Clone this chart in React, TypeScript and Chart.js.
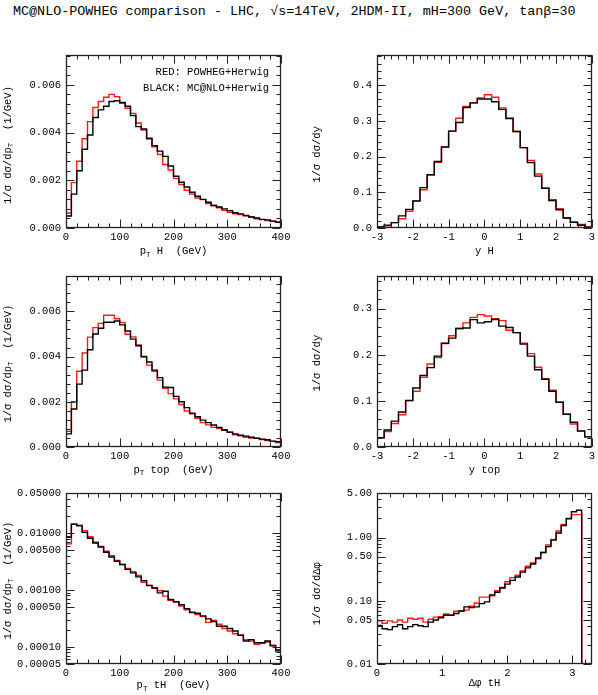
import React, { useEffect, useRef } from "react";
import { Chart, registerables } from "chart.js";
Chart.register(...registerables);

const FONT = "'Liberation Mono', 'DejaVu Sans Mono', monospace";

// ---------- bin layouts ----------
const PT_LO = 0;
const PT_BIN = 10;
const RAP_LO = -3;
const RAP_BIN = 0.2;
const DPHI_LO = 0;
const DPHI_BIN = Math.PI / 40;

// ---------- data ----------
const PTH_MCNLO = [0.0005, 0.00142, 0.0024, 0.0033, 0.0039, 0.00463, 0.00495, 0.0051, 0.0053, 0.00533, 0.00526, 0.0051, 0.00471, 0.00425, 0.00415, 0.00376, 0.00345, 0.00322, 0.003, 0.0026, 0.00217, 0.00192, 0.00172, 0.0015, 0.00133, 0.0012, 0.00108, 0.00094, 0.00088, 0.0008, 0.00073, 0.00064, 0.00059, 0.00053, 0.00046, 0.00042, 0.00036, 0.00034, 0.00029, 0.00024];
const PTH_POWHEG = [0.00063, 0.0019, 0.0028, 0.00374, 0.00446, 0.00505, 0.0053, 0.00548, 0.0056, 0.0055, 0.00523, 0.00502, 0.0048, 0.0044, 0.0041, 0.00373, 0.0034, 0.00308, 0.00266, 0.00243, 0.00207, 0.00182, 0.00158, 0.00142, 0.00126, 0.00119, 0.00102, 0.00094, 0.00085, 0.00074, 0.00066, 0.0006, 0.00056, 0.0005, 0.00046, 0.00039, 0.00035, 0.00031, 0.00028, 0.00024];

const YH_MCNLO = [0.003, 0.008, 0.015, 0.034, 0.052, 0.076, 0.113, 0.149, 0.186, 0.227, 0.271, 0.295, 0.337, 0.35, 0.361, 0.361, 0.353, 0.332, 0.306, 0.27, 0.225, 0.183, 0.145, 0.111, 0.077, 0.051, 0.028, 0.016, 0.0075, 0.002];
const YH_POWHEG = [0.003, 0.0065, 0.015, 0.026, 0.047, 0.075, 0.107, 0.149, 0.184, 0.226, 0.271, 0.307, 0.34, 0.35, 0.364, 0.373, 0.366, 0.336, 0.308, 0.27, 0.225, 0.189, 0.151, 0.111, 0.079, 0.054, 0.028, 0.016, 0.01, 0.003];

const PTTOP_MCNLO = [0.00058, 0.00168, 0.00278, 0.0034, 0.0043, 0.005, 0.00525, 0.00552, 0.00552, 0.00557, 0.0054, 0.00513, 0.00477, 0.00448, 0.004, 0.00376, 0.0034, 0.00307, 0.00265, 0.00263, 0.00224, 0.002, 0.00174, 0.0015, 0.00134, 0.00119, 0.00108, 0.00097, 0.00087, 0.00075, 0.00066, 0.00058, 0.00052, 0.00048, 0.00043, 0.00039, 0.00035, 0.00032, 0.00026, 0.00023];
const PTTOP_POWHEG = [0.00069, 0.002, 0.00335, 0.00416, 0.00486, 0.00528, 0.00547, 0.00583, 0.00583, 0.00567, 0.0055, 0.00499, 0.00487, 0.00451, 0.00398, 0.00362, 0.00335, 0.00296, 0.0026, 0.00236, 0.00213, 0.00188, 0.00159, 0.00147, 0.00127, 0.00108, 0.00098, 0.00087, 0.00082, 0.00075, 0.00065, 0.00054, 0.00049, 0.00043, 0.0004, 0.00038, 0.00033, 0.00029, 0.00025, 0.0002];

const YTOP_MCNLO = [0.02, 0.037, 0.056, 0.076, 0.101, 0.128, 0.155, 0.172, 0.197, 0.225, 0.236, 0.257, 0.258, 0.276, 0.269, 0.2715, 0.2765, 0.262, 0.259, 0.248, 0.223, 0.197, 0.1675, 0.147, 0.121, 0.097, 0.071, 0.0535, 0.035, 0.022];
const YTOP_POWHEG = [0.02, 0.0335, 0.051, 0.07, 0.1, 0.121, 0.151, 0.18, 0.194, 0.2245, 0.241, 0.257, 0.269, 0.281, 0.287, 0.284, 0.278, 0.274, 0.253, 0.248, 0.225, 0.2025, 0.173, 0.148, 0.123, 0.097, 0.071, 0.05, 0.034, 0.022];

const PTTH_MCNLO = [0.0084, 0.0143, 0.0134, 0.0103, 0.0081, 0.0067, 0.0057, 0.0046, 0.0038, 0.0032, 0.0028, 0.0023, 0.002, 0.0017, 0.00145, 0.00119, 0.00108, 0.00089, 0.00095, 0.00068, 0.00062, 0.00055, 0.00047, 0.0004, 0.00039, 0.00035, 0.00031, 0.00028, 0.00023, 0.00023, 0.00021, 0.00019, 0.00016, 0.000127, 0.000134, 0.000118, 0.000118, 0.000127, 0.000104, 0.000088];
const PTTH_POWHEG = [0.00646, 0.0143, 0.0137, 0.011, 0.0086, 0.0069, 0.0058, 0.0048, 0.004, 0.0033, 0.0028, 0.0024, 0.0021, 0.0018, 0.00136, 0.00121, 0.00108, 0.00097, 0.00078, 0.00066, 0.00062, 0.00052, 0.00045, 0.00041, 0.00037, 0.00034, 0.00027, 0.00029, 0.00025, 0.00021, 0.00019, 0.00017, 0.00016, 0.000134, 0.000127, 0.000111, 0.000115, 0.000122, 0.000107, 0.000083];

const DPHI_MCNLO = [0.0406, 0.036, 0.035, 0.039, 0.0417, 0.036, 0.039, 0.042, 0.0403, 0.039, 0.046, 0.0497, 0.054, 0.059, 0.059, 0.063, 0.069, 0.08, 0.078, 0.08, 0.09, 0.096, 0.124, 0.136, 0.159, 0.183, 0.21, 0.238, 0.284, 0.331, 0.382, 0.473, 0.579, 0.717, 0.909, 1.18, 1.55, 2.0, 2.55, 2.7];
const DPHI_POWHEG = [0.0484, 0.044, 0.048, 0.046, 0.0497, 0.046, 0.0528, 0.051, 0.0528, 0.046, 0.051, 0.055, 0.056, 0.0616, 0.059, 0.0683, 0.068, 0.071, 0.082, 0.092, 0.114, 0.114, 0.12, 0.144, 0.162, 0.2, 0.232, 0.253, 0.295, 0.352, 0.396, 0.462, 0.579, 0.76, 0.93, 1.27, 1.61, 1.97, 2.3, 2.3];

// ---------- ticks ----------
const PT_XTICKS = [0, 100, 200, 300, 400];
const RAP_XTICKS = [-3, -2, -1, 0, 1, 2, 3];
const DPHI_XTICKS = [0, 1, 2, 3];
const PT_YTICKS = [0, 0.002, 0.004, 0.006];
const YH_YTICKS = [0, 0.1, 0.2, 0.3, 0.4];
const YTOP_YTICKS = [0, 0.1, 0.2, 0.3];
const PTTH_YTICKS = [0.00005, 0.0001, 0.0005, 0.001, 0.005, 0.01, 0.05];
const DPHI_YTICKS = [0.01, 0.05, 0.1, 0.5, 1, 5];

const TITLE = "MC@NLO-POWHEG comparison - LHC, \u221As=14TeV, 2HDM-II, mH=300 GeV, tan\u03B2=30";
const LEGEND_LINES = ["RED: POWHEG+Herwig", "BLACK: MC@NLO+Herwig"];

type Seg = { t: string; sub?: boolean };
const YT_PT: Seg[] = [{ t: "1/\u03C3 d\u03C3/dp" }, { t: "T", sub: true }, { t: "  (1/GeV)" }];
const YT_Y: Seg[] = [{ t: "1/\u03C3 d\u03C3/dy" }];
const YT_DPHI: Seg[] = [{ t: "1/\u03C3 d\u03C3/d\u0394\u03C6" }];

type Panel = {
  left: number; top: number; width: number; height: number;
  padTop: number; padRight: number; yAxisW: number; xAxisH: number;
  xMin: number; xMax: number; yMin: number; yMax: number; yLog: boolean;
  xTicks: number[]; yTicks: number[]; xMinor: number; yMinor: number;
  xDigits: number; yDigits: number;
  lo: number; bin: number; black: number[]; red: number[];
  xTitle: Seg[]; yTitle: Seg[]; xTitleDy: number; yTitleX: number; yTitleDc: number;
  legend?: boolean;
};

const ROW = [
  { top: 25, height: 240, padTop: 30, xAxisH: 37 },
  { top: 265, height: 217, padTop: 8, xAxisH: 35 },
  { top: 482, height: 213, padTop: 8, xAxisH: 31 },
];
const COL = [
  { left: 0, width: 300, yAxisW: 66, padRight: 19, yTitleX: 8 },
  { left: 300, width: 298, yAxisW: 77, padRight: 6, yTitleX: 17 },
];

function place(r: number, c: number) {
  return {
    left: COL[c].left, width: COL[c].width, yAxisW: COL[c].yAxisW, padRight: COL[c].padRight, yTitleX: COL[c].yTitleX,
    top: ROW[r].top, height: ROW[r].height, padTop: ROW[r].padTop, xAxisH: ROW[r].xAxisH,
  };
}

const PANELS: Panel[] = [
  {
    ...place(0, 0), xMin: 0, xMax: 400, yMin: 0, yMax: 0.00725, yLog: false,
    xTicks: PT_XTICKS, yTicks: PT_YTICKS, xMinor: 20, yMinor: 0.0004, xDigits: 0, yDigits: 3,
    lo: PT_LO, bin: PT_BIN, black: PTH_MCNLO, red: PTH_POWHEG,
    xTitle: [{ t: "p" }, { t: "T", sub: true }, { t: " H  (GeV)" }], yTitle: YT_PT, xTitleDy: 23.7, yTitleDc: 3.5, legend: true,
  },
  {
    ...place(0, 1), xMin: -3, xMax: 3, yMin: 0, yMax: 0.484, yLog: false,
    xTicks: RAP_XTICKS, yTicks: YH_YTICKS, xMinor: 0.2, yMinor: 0.02, xDigits: 0, yDigits: 1,
    lo: RAP_LO, bin: RAP_BIN, black: YH_MCNLO, red: YH_POWHEG,
    xTitle: [{ t: "y H" }], yTitle: YT_Y, xTitleDy: 23.7, yTitleDc: 13,
  },
  {
    ...place(1, 0), xMin: 0, xMax: 400, yMin: 0, yMax: 0.00755, yLog: false,
    xTicks: PT_XTICKS, yTicks: PT_YTICKS, xMinor: 20, yMinor: 0.0004, xDigits: 0, yDigits: 3,
    lo: PT_LO, bin: PT_BIN, black: PTTOP_MCNLO, red: PTTOP_POWHEG,
    xTitle: [{ t: "p" }, { t: "T", sub: true }, { t: " top  (GeV)" }], yTitle: YT_PT, xTitleDy: 23, yTitleDc: 2,
  },
  {
    ...place(1, 1), xMin: -3, xMax: 3, yMin: 0, yMax: 0.37, yLog: false,
    xTicks: RAP_XTICKS, yTicks: YTOP_YTICKS, xMinor: 0.2, yMinor: 0.02, xDigits: 0, yDigits: 1,
    lo: RAP_LO, bin: RAP_BIN, black: YTOP_MCNLO, red: YTOP_POWHEG,
    xTitle: [{ t: "y top" }], yTitle: YT_Y, xTitleDy: 23.5, yTitleDc: 1.5,
  },
  {
    ...place(2, 0), xMin: 0, xMax: 400, yMin: 0.00005, yMax: 0.05, yLog: true,
    xTicks: PT_XTICKS, yTicks: PTTH_YTICKS, xMinor: 20, yMinor: 0, xDigits: 0, yDigits: 5,
    lo: PT_LO, bin: PT_BIN, black: PTTH_MCNLO, red: PTTH_POWHEG,
    xTitle: [{ t: "p" }, { t: "T", sub: true }, { t: " tH  (GeV)" }], yTitle: YT_PT, xTitleDy: 21.5, yTitleDc: 2,
  },
  {
    ...place(2, 1), xMin: 0, xMax: 3.3, yMin: 0.01, yMax: 5, yLog: true,
    xTicks: DPHI_XTICKS, yTicks: DPHI_YTICKS, xMinor: 0.2, yMinor: 0, xDigits: 0, yDigits: 2,
    lo: DPHI_LO, bin: DPHI_BIN, black: DPHI_MCNLO, red: DPHI_POWHEG,
    xTitle: [{ t: "\u0394\u03C6 tH" }], yTitle: YT_DPHI, xTitleDy: 19.5, yTitleDc: 15,
  },
];

function histPoints(lo: number, bin: number, vals: number[], floor: number) {
  const pts = [{ x: lo, y: floor }];
  vals.forEach((v, i) => pts.push({ x: lo + i * bin, y: v }));
  pts.push({ x: lo + vals.length * bin, y: vals[vals.length - 1] });
  pts.push({ x: lo + vals.length * bin, y: floor });
  return pts;
}

const BASE = 10.5;
function drawSegs(ctx: CanvasRenderingContext2D, segs: Seg[], x: number, y: number) {
  const main = `${BASE}px ${FONT}`;
  const sub = `${BASE * 0.72}px ${FONT}`;
  let w = 0;
  for (const s of segs) {
    ctx.font = s.sub ? sub : main;
    w += ctx.measureText(s.t).width;
  }
  let cx = x - w / 2;
  ctx.textAlign = "left";
  ctx.textBaseline = "middle";
  for (const s of segs) {
    ctx.font = s.sub ? sub : main;
    ctx.fillText(s.t, cx, y + (s.sub ? BASE * 0.32 : 0));
    cx += ctx.measureText(s.t).width;
  }
}

function minorValues(min: number, max: number, step: number, log: boolean) {
  const out: number[] = [];
  if (log) {
    for (let d = Math.floor(Math.log10(min)) - 1; d <= Math.ceil(Math.log10(max)); d++) {
      for (let k = 1; k <= 9; k++) {
        const v = k * Math.pow(10, d);
        if (v >= min * 0.999 && v <= max * 1.001) out.push(v);
      }
    }
  } else {
    const start = Math.ceil(min / step - 1e-9);
    for (let i = start; i * step <= max + 1e-12; i++) out.push(i * step);
  }
  return out;
}

function makePlugin(p: Panel) {
  return {
    id: "frameTicks",
    afterDatasetsDraw(chart: any) {
      const { ctx, chartArea: a } = chart;
      const xs = chart.scales.x;
      const ys = chart.scales.y;
      const L = Math.round(a.left) + 0.5;
      const R = Math.round(a.right) - 0.5;
      const T = Math.round(a.top) + 0.5;
      const B = Math.round(a.bottom) - 0.5;
      ctx.save();
      ctx.strokeStyle = "#222";
      ctx.lineWidth = 1;
      ctx.beginPath();
      const xMin = minorValues(p.xMin, p.xMax, p.xMinor, false);
      for (const v of xMin) {
        const px = Math.round(xs.getPixelForValue(v)) + 0.5;
        ctx.moveTo(px, B); ctx.lineTo(px, B - 4);
        ctx.moveTo(px, T); ctx.lineTo(px, T + 4);
      }
      for (const v of p.xTicks) {
        const px = Math.round(xs.getPixelForValue(v)) + 0.5;
        ctx.moveTo(px, B); ctx.lineTo(px, B - 8);
        ctx.moveTo(px, T); ctx.lineTo(px, T + 8);
      }
      const yMin = minorValues(p.yMin, p.yMax, p.yMinor, p.yLog);
      for (const v of yMin) {
        const py = Math.round(ys.getPixelForValue(v)) + 0.5;
        if (py < T - 0.1 || py > B + 0.1) continue;
        ctx.moveTo(L, py); ctx.lineTo(L + 4, py);
        ctx.moveTo(R, py); ctx.lineTo(R - 4, py);
      }
      for (const v of p.yTicks) {
        const py = Math.round(ys.getPixelForValue(v)) + 0.5;
        ctx.moveTo(L, py); ctx.lineTo(L + 8, py);
        ctx.moveTo(R, py); ctx.lineTo(R - 8, py);
      }
      ctx.stroke();
      ctx.lineWidth = 1.3;
      ctx.strokeRect(L, T, R - L, B - T);

      ctx.fillStyle = "#000";
      drawSegs(ctx, p.xTitle, (a.left + a.right) / 2, a.bottom + p.xTitleDy);
      ctx.save();
      ctx.translate(p.yTitleX, (a.top + a.bottom) / 2 + p.yTitleDc);
      ctx.rotate(-Math.PI / 2);
      drawSegs(ctx, p.yTitle, 0, 0);
      ctx.restore();

      if (p.legend) {
        ctx.font = `${BASE}px ${FONT}`;
        ctx.textAlign = "right";
        ctx.textBaseline = "middle";
        ctx.fillText(LEGEND_LINES[0], a.right - 12, a.top + 17.5);
        ctx.fillText(LEGEND_LINES[1], a.right - 12, a.top + 33.5);
      }
      ctx.restore();
    },
  };
}

function PanelChart({ p }: { p: Panel }) {
  const ref = useRef<HTMLCanvasElement>(null);
  useEffect(() => {
    const floor = p.yLog ? p.yMin : 0;
    const tickFont = { family: FONT, size: BASE };
    const chart = new Chart(ref.current as HTMLCanvasElement, {
      type: "line",
      data: {
        datasets: [
          {
            label: "MC@NLO+Herwig",
            data: histPoints(p.lo, p.bin, p.black, floor),
            borderColor: "#000000",
            borderWidth: 1.4,
            pointRadius: 0,
            stepped: true,
            fill: false,
          },
          {
            label: "POWHEG+Herwig",
            data: histPoints(p.lo, p.bin, p.red, floor),
            borderColor: "#ff1a1a",
            borderWidth: 1.4,
            pointRadius: 0,
            stepped: true,
            fill: false,
          },
        ] as any,
      },
      options: {
        animation: false,
        responsive: false,
        devicePixelRatio: 1,
        events: [],
        layout: { padding: { top: p.padTop, right: p.padRight, left: 0, bottom: 0 } },
        plugins: { legend: { display: false }, tooltip: { enabled: false } },
        scales: {
          x: {
            type: "linear",
            min: p.xMin,
            max: p.xMax,
            grid: { display: false, drawTicks: false },
            border: { display: false },
            afterBuildTicks: (s: any) => { s.ticks = p.xTicks.map((v) => ({ value: v })); },
            afterFit: (s: any) => { s.height = p.xAxisH; },
            ticks: {
              autoSkip: false, maxRotation: 0, minRotation: 0, padding: 3, color: "#000", font: tickFont,
              includeBounds: false,
              callback: (v: any) => Number(v).toFixed(p.xDigits),
            },
          },
          y: {
            type: p.yLog ? "logarithmic" : "linear",
            min: p.yMin,
            max: p.yMax,
            grid: { display: false, drawTicks: false },
            border: { display: false },
            afterBuildTicks: (s: any) => { s.ticks = p.yTicks.map((v) => ({ value: v })); },
            afterFit: (s: any) => { s.width = p.yAxisW; },
            ticks: {
              autoSkip: false, padding: 5, color: "#000", font: tickFont,
              includeBounds: false,
              callback: (v: any) => Number(v).toFixed(p.yDigits),
            },
          },
        } as any,
      },
      plugins: [makePlugin(p)],
    });
    return () => chart.destroy();
  }, [p]);
  return (
    <canvas
      ref={ref}
      width={p.width}
      height={p.height}
      style={{ position: "absolute", left: p.left, top: p.top, width: p.width, height: p.height }}
    />
  );
}

export default function App() {
  return (
    <div style={{ position: "absolute", left: 0, top: 0, width: 598, height: 695, background: "#fff", overflow: "hidden" }}>
      <div
        style={{
          position: "absolute", left: 13, top: 4, fontFamily: FONT, fontSize: "13.4px", lineHeight: "16px",
          whiteSpace: "pre", color: "#000",
        }}
      >
        {TITLE}
      </div>
      {PANELS.map((p, i) => (
        <PanelChart key={i} p={p} />
      ))}
    </div>
  );
}
